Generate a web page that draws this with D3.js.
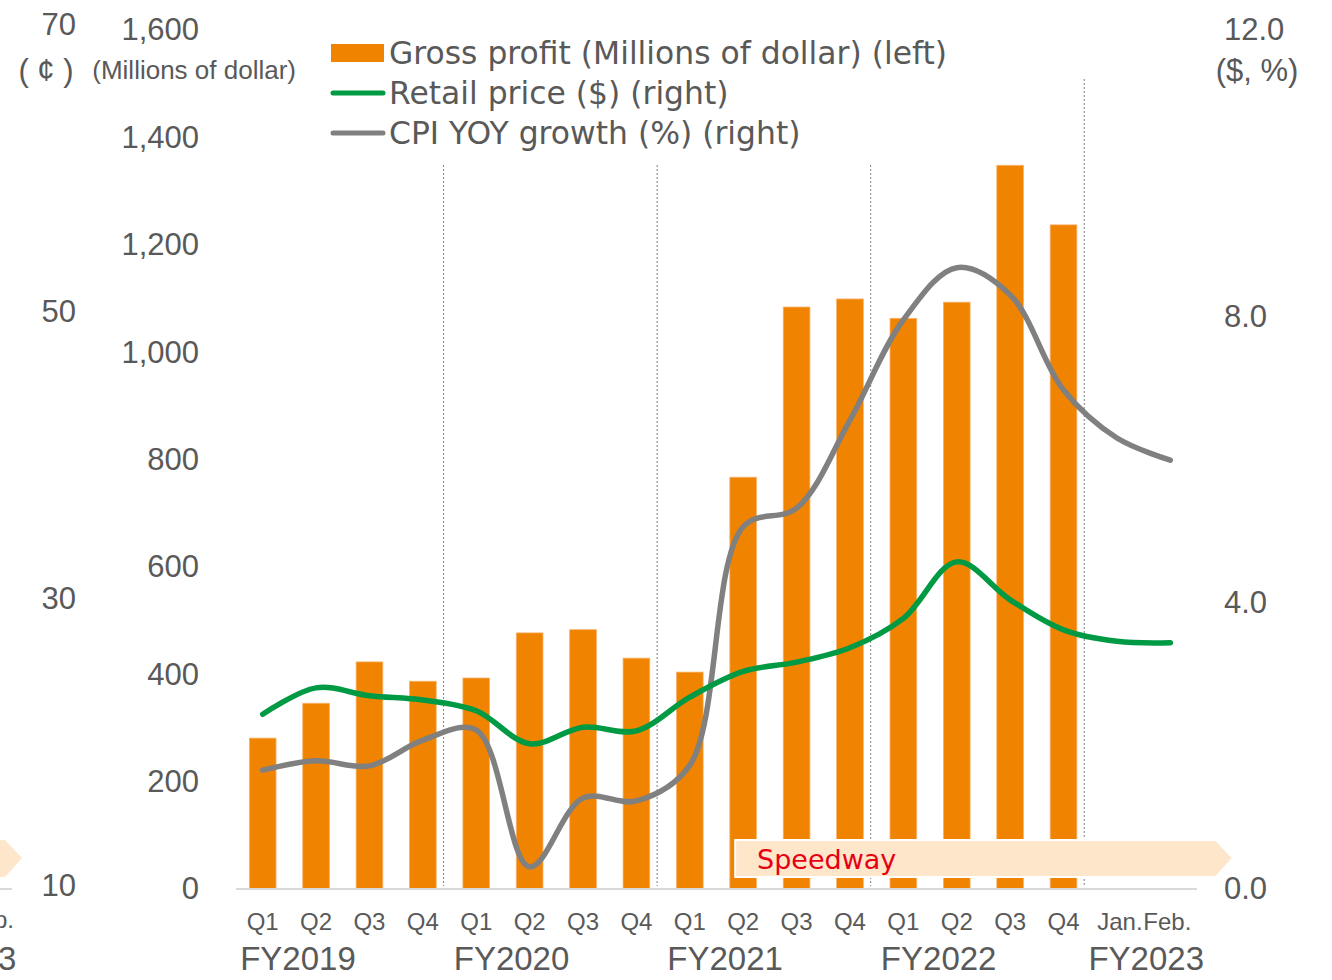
<!DOCTYPE html>
<html>
<head>
<meta charset="utf-8">
<script src="https://cdn.jsdelivr.net/npm/d3@7"></script>
<style>
  body { margin: 0; background: #fff; }
  svg text { fill: #595959; }
  .ax text { font-family: "Liberation Sans", Arial, sans-serif; font-size: 31px; fill: #595959; }
  .ax path { display: none; }
  .leg { font-family: "DejaVu Sans", sans-serif; font-size: 31.4px; }
</style>
</head>
<body>
<div id="chart"></div>
<script>
// data
var quarterLabels = ["Q1", "Q2", "Q3", "Q4", "Q1", "Q2", "Q3", "Q4", "Q1", "Q2", "Q3", "Q4",
  "Q1", "Q2", "Q3", "Q4", "Jan.", "Feb."];
var fiscalYears = ["FY2019", "FY2020", "FY2021", "FY2022", "FY2023"];
var yearStart = [0, 4, 8, 12, 16];   // first category of each fiscal year
var grossProfit = [281, 346, 423, 387, 393, 477, 483, 430, 404, 767, 1084, 1099,
  1063, 1093, 1348, 1237, null, null];
var retailPrice = [2.44, 2.81, 2.70, 2.64, 2.49, 2.03, 2.26, 2.21, 2.68, 3.04, 3.17, 3.37,
  3.78, 4.57, 4.04, 3.62, 3.46, 3.44];
var cpiGrowth = [1.66, 1.79, 1.72, 2.08, 2.22, 0.31, 1.27, 1.23, 1.73, 5.06, 5.32, 6.55,
  7.95, 8.68, 8.30, 6.97, 6.30, 5.99];
var leftTicks = [0, 200, 400, 600, 800, 1000, 1200, 1400, 1600];
var rightTicks = [0, 4, 8, 12];
var farLeftTicks = [10, 30, 50, 70];

var width = 1332, height = 980;
var orange = "#F08300", green = "#009A44", grey = "#808080";

var svg = d3.select("#chart").append("svg")
  .attr("width", width)
  .attr("height", height);

var idx = d3.range(quarterLabels.length);
var x = d3.scaleBand().domain(idx).range([236, 1197]).paddingInner(0.5).paddingOuter(0.25);
var yL = d3.scaleLinear().domain([0, 1600]).range([889, 30]);
var yR = d3.scaleLinear().domain([0, 12]).range([889, 30]);
var yFar = d3.scaleLinear().domain([10, 70]).range([886, 25]);
var cx = function (i) { return x(i) + x.bandwidth() / 2; };

// bits of the neighbouring chart that got cropped in on the left
svg.append("path")
  .attr("d", "M-10,840 L5,840 L22,858 L5,877 L-10,877 Z")
  .attr("fill", "#FEE6CA");
svg.append("line").attr("x1", 0).attr("x2", 12).attr("y1", 889).attr("y2", 889)
  .attr("stroke", "#D9D9D9").attr("stroke-width", 2);
svg.append("text").attr("x", -6).attr("y", 928).attr("font-size", 24)
  .attr("font-family", "Liberation Sans, Arial").text("p.");
svg.append("text").attr("x", -2).attr("y", 970).attr("font-size", 33)
  .attr("font-family", "Liberation Sans, Arial").text("3");

// axes
svg.append("g").attr("class", "ax")
  .attr("transform", "translate(199,0)")
  .call(d3.axisLeft(yL).tickValues(leftTicks).tickSize(0).tickPadding(0).tickFormat(d3.format(",")));
svg.append("g").attr("class", "ax")
  .attr("transform", "translate(76,0)")
  .call(d3.axisLeft(yFar).tickValues(farLeftTicks).tickSize(0).tickPadding(0));
svg.append("g").attr("class", "ax")
  .attr("transform", "translate(1224,0)")
  .call(d3.axisRight(yR).tickValues(rightTicks).tickSize(0).tickPadding(0).tickFormat(d3.format(".1f")));

svg.append("text").attr("x", 296).attr("y", 79).attr("text-anchor", "end")
  .attr("font-family", "Liberation Sans, Arial").attr("font-size", 26)
  .text("(Millions of dollar)");
svg.append("text").attr("x", 46).attr("y", 81).attr("text-anchor", "middle")
  .attr("font-family", "Liberation Sans, Arial").attr("font-size", 31)
  .text("( ¢ )");
svg.append("text").attr("x", 1257).attr("y", 81).attr("text-anchor", "middle")
  .attr("font-family", "Liberation Sans, Arial").attr("font-size", 31)
  .text("($, %)");

// fiscal year separators
svg.selectAll("line.sep")
  .data(yearStart.slice(1))
  .enter().append("line")
  .attr("class", "sep")
  .attr("x1", function (d) { return x(d) - x.step() * 0.25 - 6; })
  .attr("x2", function (d) { return x(d) - x.step() * 0.25 - 6; })
  .attr("y1", function (d, i) { return i == 3 ? 79 : 165; })
  .attr("y2", 886)
  .attr("stroke", "#7f7f7f")
  .attr("stroke-width", 1)
  .attr("stroke-dasharray", "2,2");

// bars
svg.selectAll("rect.bar")
  .data(idx.filter(function (i) { return grossProfit[i] != null; }))
  .enter().append("rect")
  .attr("class", "bar")
  .attr("x", function (i) { return x(i); })
  .attr("width", x.bandwidth())
  .attr("y", function (i) { return yL(grossProfit[i]); })
  .attr("height", function (i) { return yL(0) - yL(grossProfit[i]); })
  .attr("fill", orange)
  .attr("stroke", "#F7B26A")
  .attr("stroke-width", 0.8);

// Speedway arrow
var arrowStart = x(9) + x.bandwidth() / 2 - 8;
svg.append("path")
  .attr("d", "M" + arrowStart + ",840 L1216,840 L1233,858 L1216,877 L" + arrowStart + ",877 Z")
  .attr("fill", "#FEE6CA")
  .attr("stroke", "#fff")
  .attr("stroke-width", 2);
svg.append("text")
  .attr("x", 757).attr("y", 869)
  .attr("font-family", "DejaVu Sans, sans-serif").attr("font-size", 27)
  .style("fill", "#E60012")
  .text("Speedway");

// baseline
svg.append("line").attr("x1", 236).attr("x2", 1197).attr("y1", 889).attr("y2", 889)
  .attr("stroke", "#D9D9D9").attr("stroke-width", 2);

// lines
var lineR = function (vals) {
  return d3.line()
    .x(function (i) { return cx(i); })
    .y(function (i) { return yR(vals[i]); })
    .curve(d3.curveCatmullRom.alpha(0.5))(idx);
};
svg.append("path").attr("d", lineR(cpiGrowth))
  .attr("fill", "none").attr("stroke", grey).attr("stroke-width", 5.5)
  .attr("stroke-linecap", "round");
svg.append("path").attr("d", lineR(retailPrice))
  .attr("fill", "none").attr("stroke", green).attr("stroke-width", 5.5)
  .attr("stroke-linecap", "round");

// x labels
svg.selectAll("text.q")
  .data(idx)
  .enter().append("text")
  .attr("class", "q")
  .attr("x", function (i) { return cx(i) + (i == 16 ? 3 : i == 17 ? -3 : 0); })
  .attr("y", 930)
  .attr("text-anchor", "middle")
  .attr("font-family", "Liberation Sans, Arial")
  .attr("font-size", 24)
  .text(function (i) { return quarterLabels[i]; });

svg.selectAll("text.fy")
  .data(fiscalYears)
  .enter().append("text")
  .attr("class", "fy")
  .attr("x", function (d, i) { return x(yearStart[i]) - x.step() * 0.25 + (i == 4 ? 56 : 62); })
  .attr("y", 970)
  .attr("text-anchor", "middle")
  .attr("font-family", "Liberation Sans, Arial")
  .attr("font-size", 33)
  .text(function (d) { return d; });

// legend
var legendItems = [
  { name: "Gross profit (Millions of dollar) (left)", color: orange, type: "rect" },
  { name: "Retail price ($) (right)", color: green, type: "line" },
  { name: "CPI YOY growth (%) (right)", color: grey, type: "line" }
];
var leg = svg.selectAll("g.legitem")
  .data(legendItems)
  .enter().append("g")
  .attr("class", "legitem")
  .attr("transform", function (d, i) { return "translate(331," + (53 + i * 40) + ")"; });
leg.filter(function (d) { return d.type == "rect"; })
  .append("rect").attr("x", 0).attr("y", -9).attr("width", 53).attr("height", 18)
  .attr("fill", function (d) { return d.color; });
leg.filter(function (d) { return d.type == "line"; })
  .append("line").attr("x1", 2).attr("x2", 52).attr("y1", 0).attr("y2", 0)
  .attr("stroke", function (d) { return d.color; }).attr("stroke-width", 5)
  .attr("stroke-linecap", "round");
leg.append("text")
  .attr("class", "leg")
  .attr("x", 58).attr("y", 11)
  .text(function (d) { return d.name; });
</script>
</body>
</html>
